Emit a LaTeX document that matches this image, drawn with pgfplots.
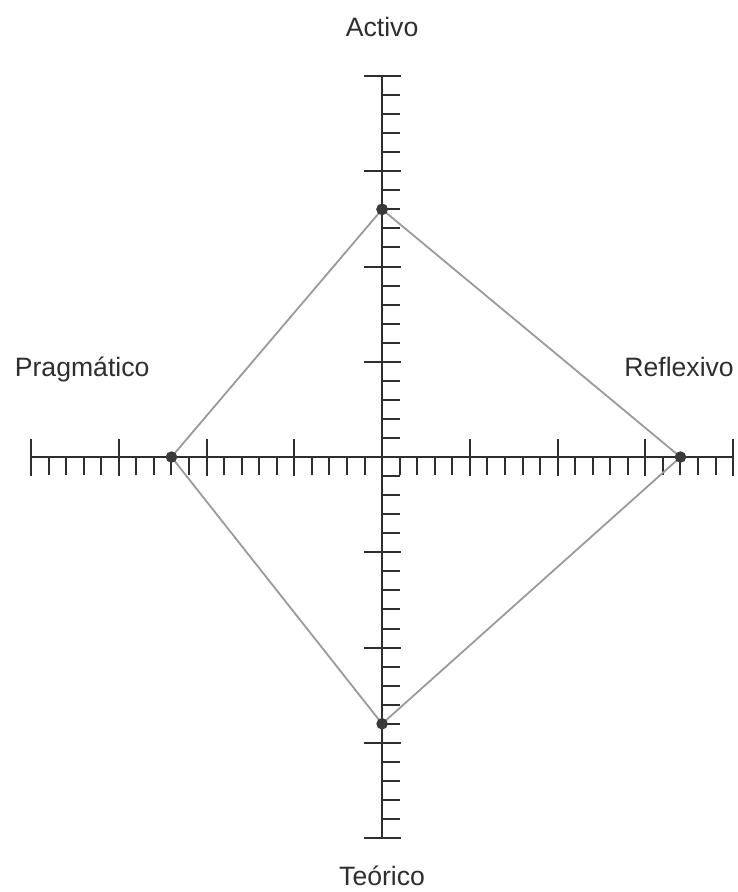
\documentclass[border=0pt]{standalone}
\usepackage{fontspec}
\setmainfont{Liberation Sans}
\usepackage{pgfplots}
\pgfplotsset{compat=1.18}

\definecolor{axisgray}{HTML}{2E2E2E}
\definecolor{linegray}{HTML}{9A9A9A}
\definecolor{dotgray}{HTML}{3A3A3A}

\tikzset{lbl/.style={anchor=base, text=axisgray, font=\fontsize{13.3}{16}\selectfont}}

\begin{document}
\begin{tikzpicture}
\begin{axis}[
    scale only axis,
    width=351pt, height=381pt,
    xmin=-20, xmax=20, ymin=-20, ymax=20,
    axis lines=middle,
    axis line style={-, line width=1.2pt, axisgray},
    xtick={-20,-15,...,20}, ytick={-20,-15,...,20},
    minor tick num=4,
    xticklabels={}, yticklabels={},
    tick align=center,
    major tick length=18.5pt, minor tick length=9pt,
    tick style={line width=1pt, axisgray},
    minor x tick style={yshift=-4.5pt},
    minor y tick style={xshift=4.5pt},
    clip=false,
]
% puntajes por estilo
\addplot[linegray, line width=0.9pt, mark=*, mark size=2.4pt,
    mark options={fill=dotgray, draw=dotgray}] coordinates {
    (0,13) (17,0) (0,-14) (-12,0) (0,13)
};

\node[lbl] at (axis cs:0,22.05) {Activo};
\node[lbl] at (axis cs:0,-22.47) {Teórico};
\node[lbl] at (axis cs:-17.09,4.25) {Pragmático};
\node[lbl] at (axis cs:16.92,4.25) {Reflexivo};

\coordinate (bl) at (axis cs:-21.77,-22.83);
\coordinate (tr) at (axis cs:20.23,23.99);
\end{axis}
\pgfresetboundingbox
\path (bl) rectangle (tr);
\end{tikzpicture}
\end{document}
